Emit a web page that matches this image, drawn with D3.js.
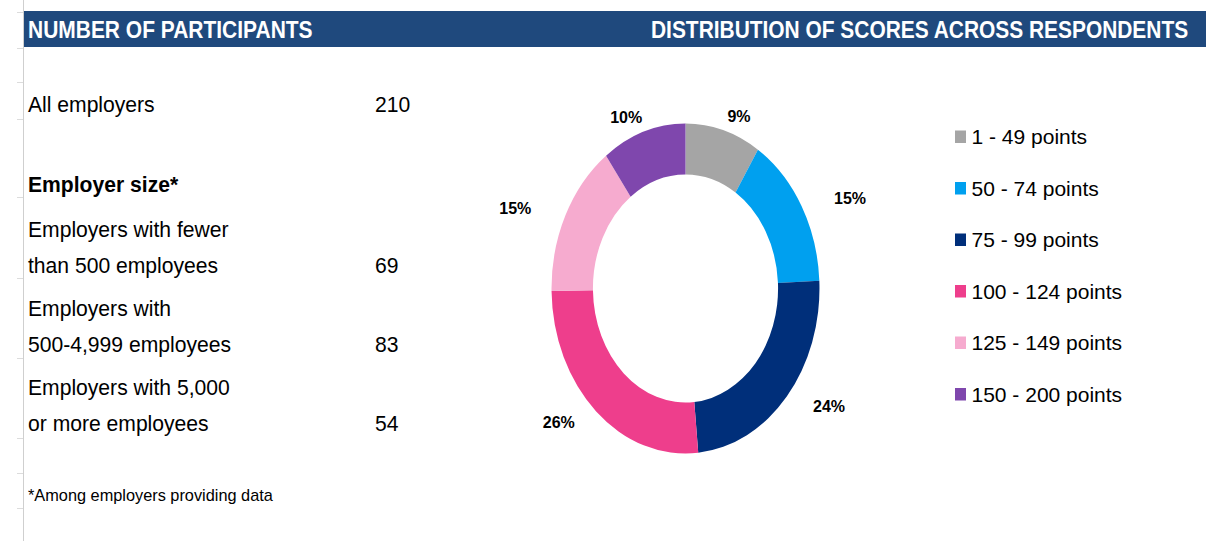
<!DOCTYPE html>
<html>
<head>
<meta charset="utf-8">
<script src="https://cdn.jsdelivr.net/npm/d3@7"></script>
<style>
  body { margin: 0; background: #fff; }
  svg { display: block; font-family: "Liberation Sans", Arial, sans-serif; }
</style>
</head>
<body>
<div id="chart"></div>
<script>
// ---- data ----
const leftTitle = 'NUMBER OF PARTICIPANTS'
const rightTitle = 'DISTRIBUTION OF SCORES ACROSS RESPONDENTS'
const totalLabel = 'All employers'
const totalCount = 210
const sizeHeading = 'Employer size*'
const sizeGroups = [
  ['Employers with fewer', 'than 500 employees'],
  ['Employers with', '500-4,999 employees'],
  ['Employers with 5,000', 'or more employees']
]
const sizeCounts = [69, 83, 54]
const footnote = '*Among employers providing data'
const scoreBands = ['1 - 49 points', '50 - 74 points', '75 - 99 points', '100 - 124 points', '125 - 149 points', '150 - 200 points']
const scoreShares = [9, 15, 24, 26, 15, 10]

// ---- layout ----
const width = 1211
const height = 541
const barColor = '#1f497d'
const bandColors = ['#a5a5a5', '#00a0ef', '#002f7a', '#ee3e8c', '#f6abcf', '#7f47ad']
const gridRows = [12, 48, 82, 119, 197, 278, 358, 438, 473, 508]

let svg = d3.select('#chart').append('svg').attr('width', width).attr('height', height)

// text that is a little narrower than plain Arial, like in the source picture
function addText (parent, str, x, y, k) {
  return parent.append('text').text(str)
    .attr('transform', 'translate(' + x + ',' + y + ') scale(' + k + ',1)')
}

// spreadsheet edge on the left
svg.append('line').attr('x1', 23.5).attr('x2', 23.5).attr('y1', 0).attr('y2', height)
  .attr('stroke', '#cfcfcf')
svg.append('g').selectAll('line').data(gridRows).join('line')
  .attr('x1', 17).attr('x2', 23).attr('y1', d => d + 0.5).attr('y2', d => d + 0.5)
  .attr('stroke', '#dcdcdc')

// header bar
svg.append('rect').attr('x', 24).attr('y', 11).attr('width', 1182).attr('height', 36).attr('fill', barColor)
let head = svg.append('g').attr('fill', '#fff').attr('font-weight', 'bold').attr('font-size', 23)
addText(head, leftTitle, 28, 38, 0.912)
addText(head, rightTitle, 651, 38, 0.91)

// participants table
let table = svg.append('g').attr('font-size', 22).attr('fill', '#000')
let textX = 28
let countX = 375
let k = 0.96
addText(table, totalLabel, textX, 112, k)
addText(table, totalCount, countX, 112, k)
addText(table, sizeHeading, textX, 192, k).attr('font-weight', 'bold')

let rowY = d3.scaleLinear().domain([0, 1]).range([237, 316])
let lineStep = 35.5
sizeGroups.forEach((lines, i) => {
  lines.forEach((line, j) => {
    addText(table, line, textX, rowY(i) + j * lineStep, k)
  })
  addText(table, sizeCounts[i], countX, rowY(i) + (lines.length - 1) * lineStep, k)
})
addText(svg, footnote, textX, 501, k).attr('font-size', 17)

// donut (the picture is squeezed horizontally, so the ring is an ellipse)
let cx = 685.5
let cy = 288.5
let outerR = 165
let innerR = 114
let sx = 0.812
let color = d3.scaleOrdinal().domain(scoreBands).range(bandColors)
let pie = d3.pie().sort(null).value(d => d.value)
let arcs = pie(scoreBands.map((b, i) => ({ band: b, value: scoreShares[i] })))
let arc = d3.arc().innerRadius(innerR).outerRadius(outerR)

svg.append('g').attr('transform', 'translate(' + cx + ',' + cy + ') scale(' + sx + ',1)')
  .selectAll('path').data(arcs).join('path')
  .attr('d', arc)
  .attr('fill', d => color(d.data.band))

// labels around the ring
let labelRx = 190
let labelRy = 180
svg.append('g').attr('font-size', 16).attr('font-weight', 'bold').attr('text-anchor', 'middle')
  .selectAll('text').data(arcs).join('text')
  .attr('x', d => cx + Math.sin((d.startAngle + d.endAngle) / 2) * labelRx)
  .attr('y', d => cy - Math.cos((d.startAngle + d.endAngle) / 2) * labelRy)
  .attr('dy', '0.36em')
  .text(d => d.data.value + '%')

// legend
let legendY = d3.scalePoint().domain(scoreBands).range([144, 401.5])
let legend = svg.append('g').selectAll('g').data(scoreBands).join('g')
  .attr('transform', d => 'translate(955,' + legendY(d) + ')')
legend.append('rect').attr('x', 0).attr('y', -13.5).attr('width', 11).attr('height', 12.5)
  .attr('fill', d => color(d))
legend.append('text').text(d => d).attr('x', 16.5).attr('y', 0).attr('font-size', 21)
</script>
</body>
</html>
